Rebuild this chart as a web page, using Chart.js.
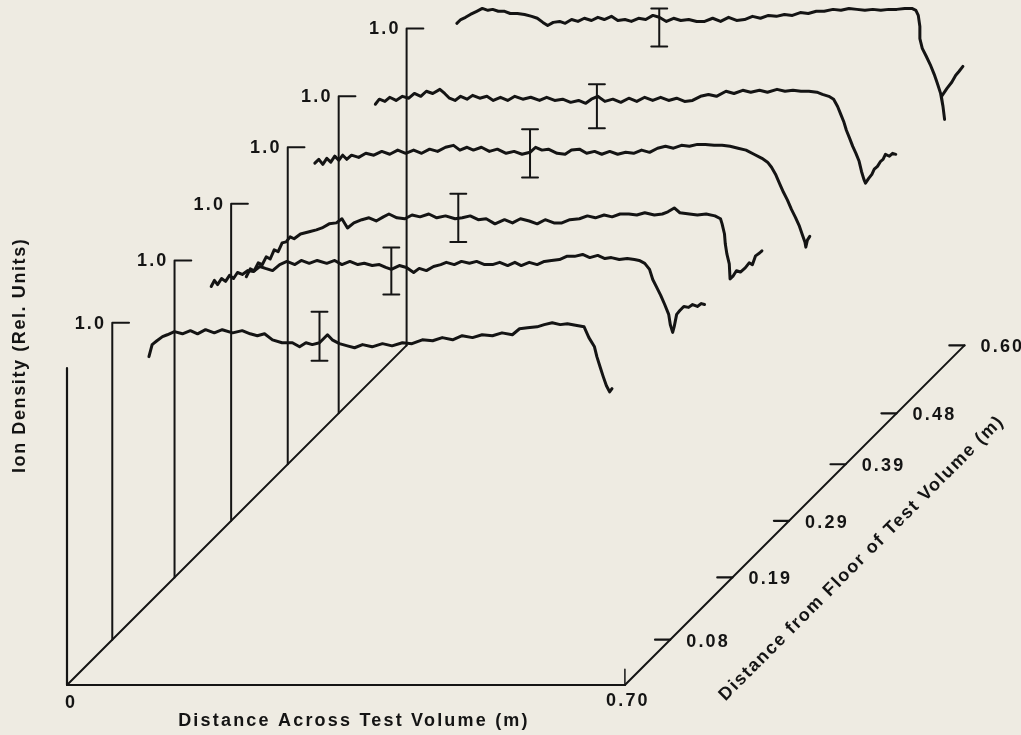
<!DOCTYPE html>
<html>
<head>
<meta charset="utf-8">
<script src="https://cdn.jsdelivr.net/npm/chart.js@4/dist/chart.umd.min.js"></script>
<style>
  html, body { margin: 0; padding: 0; background: #eeebe2; }
  #wrap { width: 1021px; height: 735px; position: relative; }
</style>
</head>
<body>
<div id="wrap"><canvas id="chart"></canvas></div>
<script>
// height of each scan above the floor of the test volume (m)
const depths = [0.08, 0.19, 0.29, 0.39, 0.48, 0.60];
const depthTicks = ["0.08", "0.19", "0.29", "0.39", "0.48", "0.60"];
const acrossTicks = ["0", "0.70"];
const acrossMax = 0.70;
const depthMax = 0.60;
const refLevel = 1.0;

// scan at 0.08 m
const across1 = [0.046,0.050,0.056,0.063,0.069,0.078,0.088,0.098,0.107,0.117,0.128,0.138,0.151,0.163,0.173,0.182,0.191,0.201,0.213,0.226,0.235,0.243,0.251,0.260,0.270,0.276,0.285,0.295,0.304,0.314,0.326,0.339,0.351,0.364,0.376,0.389,0.402,0.414,0.427,0.439,0.452,0.464,0.477,0.489,0.502,0.511,0.521,0.533,0.542,0.552,0.562,0.571,0.583,0.592,0.598,0.605,0.608,0.612,0.616,0.620,0.624,0.627];
const density1 = [0.893,0.931,0.943,0.956,0.962,0.972,0.965,0.975,0.965,0.978,0.968,0.978,0.968,0.975,0.965,0.959,0.965,0.946,0.937,0.937,0.924,0.937,0.931,0.937,0.962,0.946,0.934,0.927,0.921,0.931,0.924,0.934,0.927,0.937,0.934,0.946,0.943,0.953,0.946,0.959,0.953,0.962,0.959,0.968,0.962,0.981,0.984,0.987,0.994,1.000,0.994,0.997,0.991,0.987,0.953,0.924,0.893,0.861,0.830,0.801,0.782,0.792];

// scan at 0.19 m
const across2 = [0.046,0.050,0.054,0.059,0.064,0.069,0.074,0.079,0.085,0.092,0.099,0.107,0.114,0.123,0.132,0.141,0.151,0.159,0.169,0.179,0.191,0.201,0.210,0.220,0.230,0.238,0.248,0.257,0.265,0.272,0.282,0.291,0.300,0.307,0.316,0.325,0.334,0.341,0.351,0.360,0.370,0.379,0.389,0.399,0.408,0.418,0.427,0.435,0.445,0.455,0.464,0.473,0.483,0.492,0.502,0.512,0.521,0.531,0.540,0.548,0.558,0.568,0.577,0.583,0.590,0.596,0.600,0.605,0.610,0.615,0.620,0.622,0.625,0.627,0.630,0.634,0.639,0.645,0.650,0.656,0.661,0.665];
const density2 = [0.918,0.937,0.924,0.943,0.934,0.953,0.943,0.962,0.956,0.968,0.965,0.981,0.975,0.968,0.987,0.997,0.987,1.000,0.991,1.000,0.991,1.000,0.987,0.997,0.987,0.991,0.984,0.987,0.978,0.972,0.984,0.978,0.962,0.975,0.968,0.981,0.987,0.994,0.987,0.997,0.991,0.997,0.987,0.987,0.994,0.984,0.994,0.984,0.994,0.987,0.997,1.000,1.003,1.013,1.013,1.019,1.009,1.016,1.006,1.009,1.003,1.006,1.003,1.000,0.991,0.972,0.940,0.915,0.890,0.861,0.830,0.798,0.773,0.792,0.830,0.842,0.855,0.852,0.861,0.855,0.864,0.861];

// scan at 0.29 m
const across3 = [0.019,0.024,0.029,0.034,0.039,0.044,0.049,0.054,0.059,0.064,0.069,0.074,0.079,0.087,0.098,0.107,0.114,0.123,0.132,0.139,0.146,0.154,0.164,0.173,0.182,0.191,0.198,0.208,0.218,0.227,0.237,0.248,0.258,0.269,0.281,0.290,0.300,0.310,0.320,0.331,0.343,0.353,0.363,0.374,0.384,0.394,0.405,0.415,0.425,0.437,0.447,0.457,0.468,0.478,0.488,0.499,0.509,0.519,0.531,0.541,0.548,0.556,0.563,0.575,0.585,0.596,0.607,0.614,0.616,0.619,0.620,0.622,0.625,0.626,0.630,0.634,0.639,0.645,0.650,0.654,0.658,0.663,0.666];
const density3 = [0.770,0.795,0.789,0.814,0.808,0.833,0.826,0.855,0.849,0.877,0.880,0.896,0.890,0.905,0.912,0.918,0.924,0.937,0.940,0.953,0.924,0.940,0.950,0.956,0.946,0.959,0.968,0.956,0.953,0.965,0.959,0.968,0.956,0.962,0.953,0.956,0.962,0.950,0.953,0.937,0.950,0.940,0.953,0.946,0.937,0.950,0.940,0.940,0.950,0.953,0.962,0.956,0.965,0.959,0.968,0.968,0.965,0.972,0.965,0.968,0.975,0.987,0.972,0.968,0.965,0.968,0.962,0.953,0.937,0.905,0.874,0.842,0.811,0.763,0.773,0.789,0.785,0.798,0.814,0.808,0.836,0.845,0.852];

// scan at 0.39 m
const across4 = [0.034,0.039,0.044,0.049,0.054,0.059,0.064,0.069,0.074,0.080,0.089,0.098,0.108,0.118,0.128,0.138,0.148,0.158,0.168,0.178,0.188,0.198,0.208,0.216,0.225,0.233,0.243,0.253,0.263,0.274,0.284,0.294,0.304,0.311,0.319,0.327,0.338,0.348,0.356,0.366,0.375,0.385,0.394,0.404,0.414,0.424,0.434,0.444,0.454,0.464,0.474,0.484,0.494,0.504,0.514,0.524,0.535,0.545,0.555,0.565,0.575,0.585,0.595,0.602,0.607,0.612,0.617,0.622,0.627,0.632,0.637,0.642,0.646,0.649,0.650,0.652,0.655];
const density4 = [0.950,0.962,0.946,0.965,0.953,0.972,0.959,0.975,0.962,0.975,0.968,0.981,0.975,0.987,0.978,0.991,0.981,0.991,0.981,0.994,0.987,1.000,1.006,0.991,1.000,0.991,1.000,0.987,0.994,0.981,0.987,0.978,0.984,1.000,0.991,0.994,0.981,0.978,0.991,0.994,0.981,0.987,0.978,0.987,0.978,0.984,0.981,0.991,0.984,0.997,1.003,0.997,1.006,1.003,1.009,1.009,1.006,1.006,1.003,0.997,0.991,0.978,0.965,0.953,0.937,0.915,0.886,0.858,0.833,0.804,0.779,0.751,0.722,0.700,0.685,0.707,0.719];

// scan at 0.48 m
const across5 = [0.046,0.051,0.058,0.064,0.072,0.080,0.088,0.095,0.103,0.110,0.118,0.127,0.133,0.139,0.146,0.153,0.161,0.168,0.177,0.186,0.194,0.203,0.212,0.221,0.231,0.241,0.252,0.261,0.271,0.281,0.291,0.301,0.310,0.317,0.325,0.334,0.344,0.354,0.364,0.374,0.384,0.394,0.404,0.414,0.424,0.434,0.444,0.454,0.464,0.474,0.486,0.496,0.507,0.517,0.528,0.538,0.550,0.560,0.570,0.580,0.590,0.600,0.607,0.615,0.621,0.626,0.630,0.634,0.637,0.641,0.645,0.649,0.653,0.656,0.659,0.661,0.665,0.669,0.672,0.676,0.680,0.683,0.686,0.691,0.695,0.699];
const density5 = [0.975,0.991,0.984,0.997,0.987,1.000,0.994,1.009,1.000,1.016,1.009,1.022,1.009,0.994,0.987,1.000,0.991,1.003,0.994,1.000,0.987,0.997,0.987,1.000,0.991,0.997,0.987,0.997,0.987,0.991,0.981,0.987,0.978,0.991,1.000,0.984,0.991,0.981,0.994,0.984,0.997,0.987,0.997,0.987,0.994,0.984,0.987,1.000,1.006,1.000,1.016,1.009,1.019,1.013,1.019,1.013,1.022,1.016,1.019,1.016,1.016,1.013,1.006,1.000,0.991,0.968,0.943,0.918,0.893,0.868,0.842,0.820,0.795,0.763,0.738,0.726,0.741,0.754,0.770,0.779,0.795,0.801,0.817,0.811,0.820,0.817];

// scan at 0.60 m
const across6 = [0.063,0.068,0.074,0.080,0.088,0.095,0.102,0.108,0.115,0.123,0.130,0.139,0.148,0.157,0.164,0.171,0.177,0.184,0.192,0.199,0.207,0.215,0.223,0.232,0.240,0.248,0.257,0.265,0.274,0.282,0.291,0.300,0.309,0.317,0.326,0.335,0.344,0.354,0.364,0.374,0.384,0.394,0.404,0.414,0.424,0.434,0.444,0.454,0.464,0.474,0.484,0.494,0.504,0.514,0.524,0.535,0.545,0.555,0.565,0.575,0.585,0.595,0.605,0.615,0.625,0.634,0.639,0.642,0.644,0.644,0.647,0.652,0.657,0.662,0.666,0.670,0.673,0.675,0.673,0.671,0.678,0.684,0.689,0.693,0.698];
const density6 = [1.016,1.028,1.035,1.044,1.054,1.063,1.057,1.060,1.054,1.054,1.047,1.047,1.044,1.038,1.032,1.019,1.009,1.019,1.022,1.016,1.028,1.022,1.032,1.025,1.035,1.028,1.038,1.025,1.028,1.022,1.032,1.028,1.041,1.035,1.022,1.032,1.025,1.028,1.022,1.022,1.032,1.022,1.035,1.025,1.028,1.038,1.032,1.041,1.038,1.044,1.041,1.050,1.047,1.054,1.054,1.060,1.057,1.063,1.060,1.057,1.060,1.057,1.060,1.060,1.063,1.063,1.057,1.041,1.006,0.968,0.937,0.912,0.886,0.855,0.826,0.795,0.754,0.713,0.754,0.785,0.811,0.830,0.852,0.864,0.880];

// error bar on each scan: position across, upper and lower end
const errAcross = [0.260, 0.272, 0.285, 0.304, 0.324, 0.317];
const errHigh = [1.035, 1.041, 1.032, 1.057, 1.038, 1.063];
const errLow = [0.880, 0.893, 0.880, 0.905, 0.899, 0.943];

const acrossScans = [across1, across2, across3, across4, across5, across6];
const densityScans = [density1, density2, density3, density4, density5, density6];

// oblique projection: pixels per unit along each direction
const PX_ACROSS = 797;
const PX_ION = 317;
const PX_DEPTH = 566;
const ink = "#141414";
const labelFont = "bold 18px 'Liberation Sans', Arial, sans-serif";

function proj(x, ion, d) {
  return { x: x + d * PX_DEPTH / PX_ACROSS, y: ion + d * PX_DEPTH / PX_ION };
}

function lineSet(points, width) {
  return {
    data: points,
    showLine: true,
    borderColor: ink,
    borderWidth: width,
    pointRadius: 0,
    tension: 0,
    fill: false,
    borderCapStyle: "round",
    borderJoinStyle: "round"
  };
}

const datasets = [];

// scans
depths.forEach((d, i) => {
  const xs = acrossScans[i], ys = densityScans[i];
  const n = Math.min(xs.length, ys.length);
  const pts = [];
  for (let k = 0; k < n; k++) pts.push(proj(xs[k], ys[k], d));
  datasets.push(lineSet(pts, 3));
});

// vertical reference lines with 1.0 mark
depths.forEach((d) => {
  datasets.push(lineSet([proj(0, 0, d), proj(0, refLevel, d), proj(0.021, refLevel, d)], 2));
});

// error bars
const capW = 0.010;
depths.forEach((d, i) => {
  const x = errAcross[i];
  datasets.push(lineSet([
    proj(x - capW, errHigh[i], d), proj(x + capW, errHigh[i], d), proj(x, errHigh[i], d),
    proj(x, errLow[i], d), proj(x - capW, errLow[i], d), proj(x + capW, errLow[i], d)
  ], 2));
});

// frame: front vertical, floor, two depth edges
datasets.push(lineSet([proj(0, refLevel, 0), proj(0, 0, 0), proj(acrossMax, 0, 0)], 2.2));
datasets.push(lineSet([proj(acrossMax, 0.05, 0), proj(acrossMax, 0, 0)], 1.5));
datasets.push(lineSet([proj(0, 0, 0), proj(0, 0, depthMax)], 2));
datasets.push(lineSet([proj(acrossMax, 0, 0), proj(acrossMax, 0, depthMax)], 2));
depths.forEach((d) => {
  datasets.push(lineSet([proj(acrossMax - 0.019, 0, d), proj(acrossMax, 0, d)], 2.2));
});

const textPlugin = {
  id: "obliqueText",
  afterDatasetsDraw(chart) {
    const ctx = chart.ctx;
    const sx = chart.scales.x, sy = chart.scales.y;
    const px = (x, ion, d) => {
      const p = proj(x, ion, d);
      return [sx.getPixelForValue(p.x), sy.getPixelForValue(p.y)];
    };
    ctx.save();
    ctx.fillStyle = ink;
    ctx.font = labelFont;
    ctx.letterSpacing = "2.2px";
    ctx.textBaseline = "middle";

    ctx.textAlign = "right";
    depths.forEach((d) => {
      const [x, y] = px(0, refLevel, d);
      ctx.fillText(refLevel.toFixed(1), x - 6, y + 1);
    });

    ctx.textAlign = "left";
    depths.forEach((d, i) => {
      const [x, y] = px(acrossMax, 0, d);
      ctx.fillText(depthTicks[i], x + 16, y + 2);
    });

    ctx.textAlign = "center";
    let [x0, y0] = px(0, 0, 0);
    ctx.fillText(acrossTicks[0], x0 + 4, y0 + 18);
    let [x1, y1] = px(acrossMax, 0, 0);
    ctx.fillText(acrossTicks[1], x1 + 3, y1 + 16);

    let [xm, ym] = px(acrossMax / 2, 0, 0);
    ctx.fillText("Distance Across Test Volume (m)", xm + 8, ym + 36);

    ctx.letterSpacing = "1.6px";
    let [xa, ya] = px(0, 1.04, 0);
    ctx.save();
    ctx.translate(xa - 47, ya);
    ctx.rotate(-Math.PI / 2);
    ctx.fillText("Ion Density (Rel. Units)", 0, 0);
    ctx.restore();

    const [xs0, ys0] = px(acrossMax, 0, 0);
    const [xs1, ys1] = px(acrossMax, 0, depthMax);
    const ang = Math.atan2(ys1 - ys0, xs1 - xs0);
    let [xd, yd] = px(acrossMax, 0, 0.33);
    ctx.save();
    ctx.translate(xd + 50, yd + 60);
    ctx.rotate(ang);
    ctx.fillText("Distance from Floor of Test Volume (m)", 0, 0);
    ctx.restore();

    ctx.restore();
  }
};

new Chart(document.getElementById("chart"), {
  type: "scatter",
  data: { datasets: datasets },
  options: {
    responsive: true,
    maintainAspectRatio: false,
    animation: false,
    layout: { padding: 0 },
    plugins: { legend: { display: false }, tooltip: { enabled: false } },
    scales: {
      x: { type: "linear", display: false, min: -67 / PX_ACROSS, max: (1021 - 67) / PX_ACROSS },
      y: { type: "linear", display: false, min: -50 / PX_ION, max: 685 / PX_ION }
    }
  },
  plugins: [textPlugin]
});
</script>
</body>
</html>
